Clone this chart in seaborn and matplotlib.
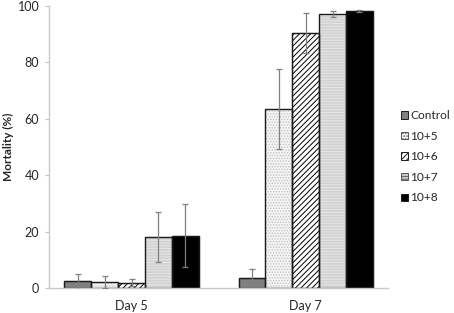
import matplotlib
matplotlib.use("Agg")
import matplotlib.pyplot as plt
import seaborn as sns
import pandas as pd
from matplotlib.patches import Patch, Rectangle

days = ["Day 5", "Day 7"]
groups = ["Control", "10+5", "10+6", "10+7", "10+8"]
day5_mean = [2.6, 2.2, 1.9, 18.2, 18.5]
day5_err = [2.3, 2.2, 1.2, 8.9, 11.2]
day7_mean = [3.7, 63.4, 90.3, 97.2, 98.3]
day7_err = [2.9, 14.3, 7.1, 1.1, 0.3]

sns.set_theme(style="white")
plt.rcParams['font.family'] = ['Lato', 'DejaVu Sans']
plt.rcParams['hatch.linewidth'] = 0.7

rows = []
for g, m5, m7 in zip(groups, day5_mean, day7_mean):
    rows.append({"Day": days[0], "Group": g, "Mortality": m5})
    rows.append({"Day": days[1], "Group": g, "Mortality": m7})
df = pd.DataFrame(rows)
errs = {(days[0], g): e for g, e in zip(groups, day5_err)}
errs.update({(days[1], g): e for g, e in zip(groups, day7_err)})

styles = {
    "Control": dict(face="#808080", edge="#404040", hatch=None),
    "10+5": dict(face="#f4f4f4", edge="#c4c4c4", hatch="......"),
    "10+6": dict(face="white", edge="black", hatch="//////"),
    "10+7": dict(face="#d2d2d2", edge="#e6e6e6", hatch="------"),
    "10+8": dict(face="black", edge="black", hatch=None),
}

fig = plt.figure(figsize=(4.54, 3.13), dpi=100)
ax = fig.add_axes([0.108, 0.08, 0.747, 0.901])
sns.barplot(data=df, x="Day", y="Mortality", hue="Group", order=days,
            hue_order=groups, errorbar=None, width=0.77, ax=ax,
            legend=False, saturation=1)

for hi, g in enumerate(groups):
    cont = ax.containers[hi]
    st = styles[g]
    for di, p in enumerate(cont.patches):
        p.set_facecolor(st["face"])
        p.set_edgecolor(st["edge"])
        p.set_linewidth(0.8)
        if st["hatch"]:
            p.set_hatch(st["hatch"])
        ax.add_patch(Rectangle((p.get_x(), p.get_y()), p.get_width(), p.get_height(),
                               fill=False, edgecolor="#1a1a1a", linewidth=1.0, zorder=p.get_zorder() + 0.1))
        cx = p.get_x() + p.get_width() / 2
        ax.errorbar(cx, p.get_height(), yerr=errs[(days[di], g)], color="#7f7f7f",
                    elinewidth=0.9, capsize=2.2, capthick=0.9, zorder=5, fmt="none")

ax.set_ylim(0, 100)
ax.set_yticks([0, 20, 40, 60, 80, 100])
ax.set_xlabel("")
ax.set_ylabel("Mortality (%)", fontsize=8.5, fontweight="bold")
ax.yaxis.set_label_coords(-0.102, 0.5)
ax.tick_params(axis="y", labelsize=9, length=3, width=0.8, color="#bfbfbf", left=True, pad=4)
ax.tick_params(axis="x", labelsize=9, length=0, pad=9)
for s in ["top", "right"]:
    ax.spines[s].set_visible(False)
for s in ["left", "bottom"]:
    ax.spines[s].set_color("#c8c8c8")
    ax.spines[s].set_linewidth(1.0)

handles = []
for g in groups:
    st = styles[g]
    handles.append(Patch(facecolor=st["face"], edgecolor="#1a1a1a" if st["hatch"] is None or g == "10+6" else "#555555",
                         hatch=st["hatch"], linewidth=0.7, label=g))
fig.legend(handles=handles, labels=groups, loc="upper left", bbox_to_anchor=(0.884, 0.648),
           frameon=False, fontsize=8.6, handlelength=0.55, handleheight=0.55,
           handletextpad=0.2, labelspacing=0.8, borderaxespad=0, borderpad=0)

fig.savefig("out.png", dpi=100)
